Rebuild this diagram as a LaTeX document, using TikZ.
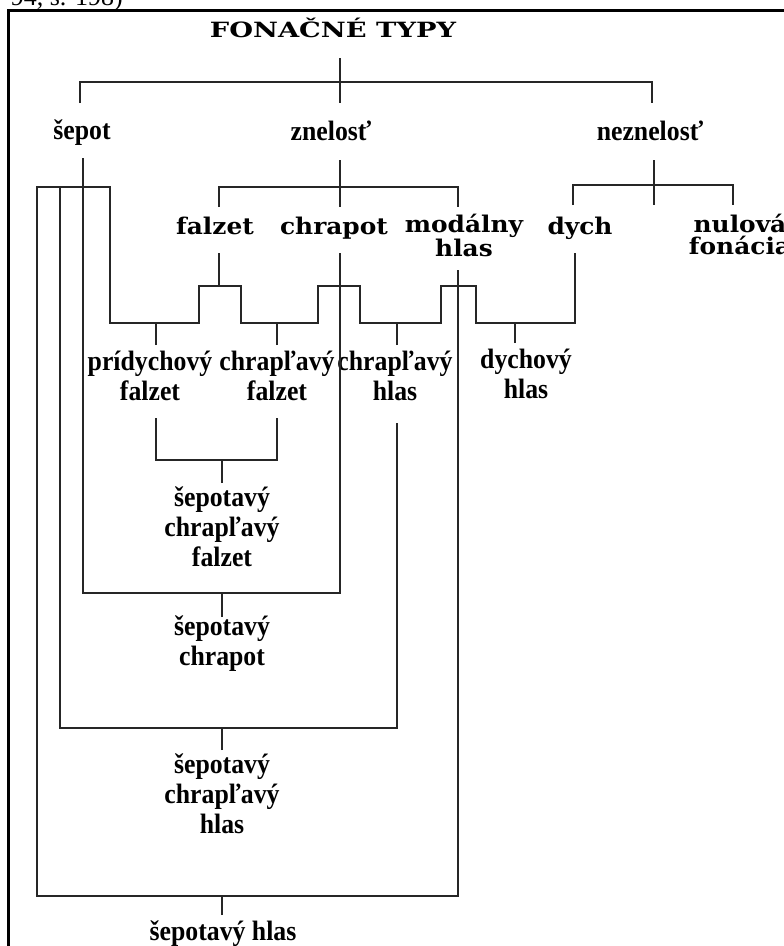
\documentclass[tikz,border=0pt]{standalone}
\usepackage{fontspec}
\setmainfont{Liberation Serif}
\newfontfamily\narrowfont[FakeStretch=0.92]{Liberation Serif}
\newfontfamily\widefont[FakeStretch=1.08]{DejaVu Serif}
\newfontfamily\titlefont[FakeStretch=1.3]{DejaVu Serif}

\begin{document}
\begin{tikzpicture}[x=1pt, y=-1pt,
        N/.style = {font=\narrowfont\bfseries\fontsize{28}{30}\selectfont, inner sep=0pt, align=center, anchor=base},
        W/.style = {font=\widefont\bfseries\fontsize{23}{22}\selectfont, inner sep=0pt, align=center, anchor=base},
        link/.style = {draw=black!85, line width=1.4pt}
    ]
        \useasboundingbox (0,0) rectangle (784,946);
        \draw[line width=3pt] (8.5,10.5) rectangle (820,980);
        \node[font=\fontsize{26}{26}\selectfont, inner sep=0pt, anchor=base east] (cite) at (123,5) {94, s. 198)};

        % texts (base = last line)
        \node[W, font=\titlefont\bfseries\fontsize{21}{21}\selectfont] (title) at (333,37) {FONAČNÉ TYPY};
        \node[N] (sepot) at (82,139) {šepot};
        \node[N] (znelost) at (331,140) {znelosť};
        \node[N] (neznelost) at (650,140) {neznelosť};
        \node[W] (falzet) at (215,234) {falzet};
        \node[W] (chrapot) at (334,234) {chrapot};
        \node[W] (modalny) at (464,256) {modálny\\hlas};
        \node[W] (dych) at (580,234) {dych};
        \node[W] (nulova) at (740,254) {nulová\\fonácia};
        \node[N] (pridych) at (150,400) {prídychový\\falzet};
        \node[N] (chraplf) at (277,400) {chrapľavý\\falzet};
        \node[N] (chraplh) at (395,400) {chrapľavý\\hlas};
        \node[N] (dychovy) at (526,398) {dychový\\hlas};
        \node[N] (sepchf) at (222,566) {šepotavý\\chrapľavý\\falzet};
        \node[N] (sepch) at (222,665) {šepotavý\\chrapot};
        \node[N] (sepchh) at (222,833) {šepotavý\\chrapľavý\\hlas};
        \node[N] (seph) at (223,940) {šepotavý hlas};

        % line ends next to the texts
        \coordinate (title-dn) at (340,58);
        \coordinate (sepot-up) at (80,103);
        \coordinate (znelost-up) at (340,103);
        \coordinate (neznelost-up) at (652,103);
        \coordinate (sepot-dn) at (83,158);
        \coordinate (sepot-row) at (83,187);
        \coordinate (znelost-dn) at (340,160);
        \coordinate (neznelost-dn) at (654,160);
        \coordinate (falzet-up) at (219,207);
        \coordinate (chrapot-up) at (340,207);
        \coordinate (modalny-up) at (458,207);
        \coordinate (dych-up) at (573,205);
        \coordinate (nulova-up) at (733,205);
        \coordinate (falzet-dn) at (219,253);
        \coordinate (chrapot-dn) at (340,253);
        \coordinate (modalny-dn) at (458,270);
        \coordinate (dych-dn) at (575,253);
        \coordinate (pridych-up) at (156,345);
        \coordinate (chraplf-up) at (277,345);
        \coordinate (chraplh-up) at (397,345);
        \coordinate (dychovy-up) at (515,343);
        \coordinate (pridych-dn) at (156,418);
        \coordinate (chraplf-dn) at (277,418);
        \coordinate (chraplh-dn) at (397,423);
        \coordinate (sepchf-up) at (222,483);
        \coordinate (sepch-up) at (222,617);
        \coordinate (sepchh-up) at (222,750);
        \coordinate (seph-up) at (222,915);

        % first level
        \draw[link] (title-dn) -- (znelost-up);
        \draw[link] (sepot-up) -- ++(0,-21) -| (neznelost-up);
        % second level
        \draw[link] (znelost-dn) -- (chrapot-up);
        \draw[link] (falzet-up) -- ++(0,-20) -| (modalny-up);
        \draw[link] (neznelost-dn) -- (neznelost-dn |- nulova-up);
        \draw[link] (dych-up) -- ++(0,-20) -| (nulova-up);
        % the long row from sepot to dych
        \draw[link] (modalny-dn) -- ++(0,626) -- ++(-421,0) -- ++(0,-709) -- ++(73,0)
            -- ++(0,136) -- ++(89,0) -- ++(0,-37) -- ++(42,0) -- ++(0,37)
            -- ++(77,0) -- ++(0,-37) -- ++(42,0) -- ++(0,37)
            -- ++(81,0) -- ++(0,-37) -- ++(35,0) -- ++(0,37) -| (dych-dn);
        \draw[link] (falzet-dn) -- ++(0,33);
        \draw[link] (pridych-up) -- ++(0,-22);
        \draw[link] (chraplf-up) -- ++(0,-22);
        \draw[link] (chraplh-up) -- ++(0,-22);
        \draw[link] (dychovy-up) -- ++(0,-20);
        % mixed types
        \draw[link] (pridych-dn) -- ++(0,42) -| (chraplf-dn);
        \draw[link] (sepchf-up) -- ++(0,-23);
        \draw[link] (sepot-dn) -- ++(0,435) -| (chrapot-dn);
        \draw[link] (sepch-up) -- ++(0,-24);
        \draw[link] ([xshift=-23pt]sepot-row) -- ++(0,541) -| (chraplh-dn);
        \draw[link] (sepchh-up) -- ++(0,-22);
        \draw[link] (seph-up) -- ++(0,-19);
    \end{tikzpicture}
\end{document}
